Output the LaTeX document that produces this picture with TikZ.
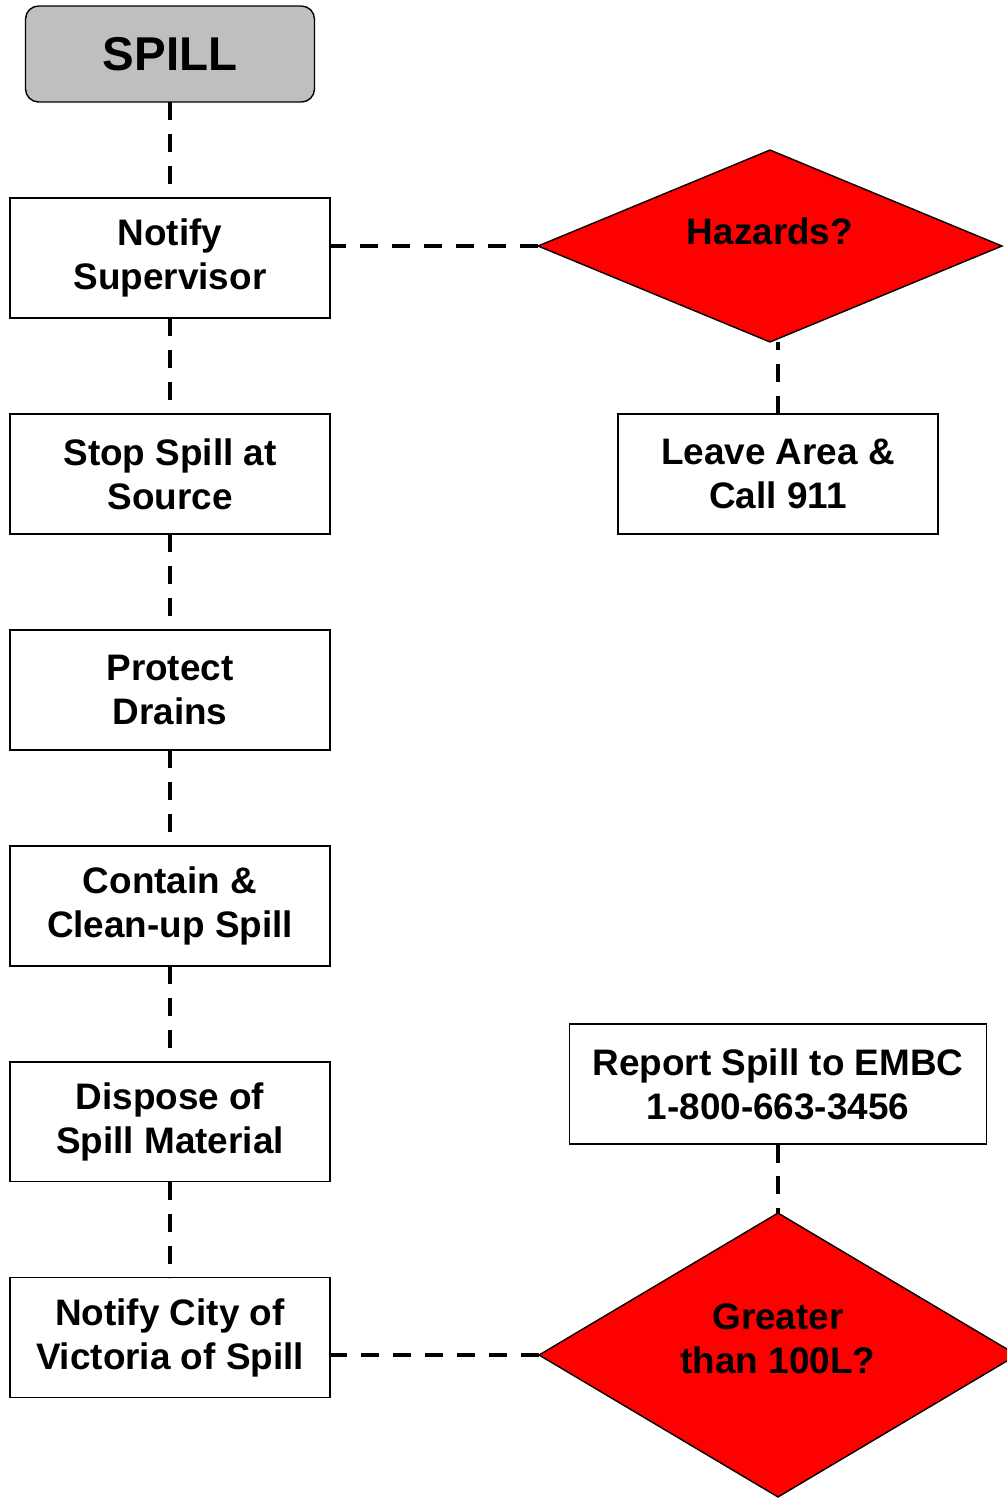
\documentclass[tikz,border=0pt]{standalone}
\usepackage{fontspec}
\setmainfont{Liberation Sans}
\usetikzlibrary{shapes,positioning,calc}

\begin{document}
\begin{tikzpicture}[
    x=0.02cm, y=-0.02cm,
    node distance=1.92cm,
    every node/.style={font=\fontsize{21}{25}\selectfont\bfseries},
    stepbox/.style={rectangle, draw, line width=0.8pt, outer sep=0pt, minimum width=6.4cm, minimum height=2.4cm, align=center, inner sep=0pt},
    startbox/.style={rectangle, draw, line width=0.8pt, outer sep=0pt, rounded corners=0.26cm, fill=black!25, minimum width=5.78cm, minimum height=1.92cm, inner sep=0pt, font=\fontsize{27}{30}\selectfont\bfseries},
    decide/.style={diamond, draw, line width=0.8pt, outer sep=0pt, fill=red, inner sep=0pt},
    link/.style={line width=2.3pt, dash pattern=on 0.37cm off 0.27cm}
]
\useasboundingbox (0,0) rectangle (1007,1498);
\clip (0,0) rectangle (1007,1498);

% main column
\node[startbox] (spill) at (170,54) {SPILL};
\node[stepbox, below=of spill] (notify) {Notify\\Supervisor};
\node[stepbox, below=of notify] (stop) {Stop Spill at\\Source};
\node[stepbox, below=of stop] (protect) {Protect\\Drains};
\node[stepbox, below=of protect] (contain) {Contain \&\\Clean-up Spill};
\node[stepbox, below=of contain] (dispose) {Dispose of\\Spill Material};
\node[stepbox, below=of dispose] (city) {Notify City of\\Victoria of Spill};

% decisions
\node[decide, minimum width=9.28cm, minimum height=3.84cm] (haz) at (770,246) {};
\node (haztext) at (770,231) {Hazards?};
\node[stepbox] (leave) at (778,474) {Leave Area \&\\Call 911};

\node[stepbox, minimum width=8.34cm] (report) at (778,1084) {Report Spill to EMBC\\1-800-663-3456};
\node[decide, minimum width=9.56cm, minimum height=5.68cm] (big) at (778,1355) {};
\node[align=center] (bigtext) at (778,1339) {Greater\\than 100L?};

% connectors
\draw[link] (spill) -- (notify);
\draw[link] (notify) -- (stop);
\draw[link] (stop) -- (protect);
\draw[link] (protect) -- (contain);
\draw[link] (contain) -- (dispose);
\draw[link] (dispose) -- (city);
\draw[link] (haz.west) -- (haz.west -| notify.east);
\draw[link] (leave.north) -- (leave.north |- haz.south);
\draw[link] (report.south) -- (big.north);
\draw[link] (big.west) -- (big.west -| city.east);

\end{tikzpicture}
\end{document}
